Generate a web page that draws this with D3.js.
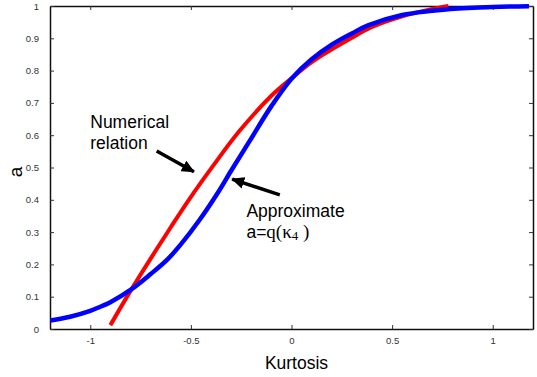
<!DOCTYPE html>
<html>
<head>
  <meta charset="utf-8">
  <script src="https://d3js.org/d3.v7.min.js"></script>
  <style>
    body { margin: 0; background: #fff; }
    .tick text { font-family: Arial, "Liberation Sans", sans-serif; font-size: 9.5px; fill: #333; }
  </style>
</head>
<body>
<div id="vis"></div>
<script>
// numerical relation (red)
var numX = [-0.90, -0.80, -0.70, -0.60, -0.51, -0.39, -0.26, -0.10, 0.0, 0.10, 0.19, 0.30, 0.40, 0.55, 0.68, 0.78];
var numA = [0.012, 0.118, 0.218, 0.315, 0.40, 0.505, 0.612, 0.722, 0.776, 0.826, 0.862, 0.902, 0.935, 0.968, 0.988, 1.0];

// approximate a = q(kappa4) (blue)
var apxX = [-1.2, -1.1, -1.0, -0.95, -0.90, -0.80, -0.70, -0.62, -0.55, -0.46, -0.37, -0.30, -0.21, -0.10, 0.0, 0.1, 0.2, 0.3, 0.38, 0.55, 0.7, 0.79, 1.0, 1.18];
var apxA = [0.026, 0.038, 0.056, 0.069, 0.083, 0.121, 0.17, 0.213, 0.262, 0.335, 0.418, 0.49, 0.58, 0.69, 0.775, 0.835, 0.88, 0.915, 0.94, 0.972, 0.985, 0.991, 0.997, 0.999];

var xTicks = [-1, -0.5, 0, 0.5, 1];
var yTicks = [0, 0.1, 0.2, 0.3, 0.4, 0.5, 0.6, 0.7, 0.8, 0.9, 1];

var W = 537, H = 377;
var pLeft = 50, pRight = 533, pTop = 6, pBottom = 329;

var svg = d3.select("#vis").append("svg")
  .attr("width", W)
  .attr("height", H);

var x = d3.scaleLinear().domain([-1.2, 1.2]).range([pLeft, pRight]);
var y = d3.scaleLinear().domain([0, 1]).range([pBottom, pTop]);

var fmt = function(d){ return String(d); };

// axes, ticks pointing inward on all four sides
svg.append("g").attr("transform", "translate(0," + pBottom + ")")
  .call(d3.axisBottom(x).tickValues(xTicks).tickFormat(fmt).tickSizeInner(-4).tickSizeOuter(0).tickPadding(8));
svg.append("g").attr("transform", "translate(0," + pTop + ")")
  .call(d3.axisTop(x).tickValues(xTicks).tickFormat("").tickSizeInner(-4).tickSizeOuter(0));
svg.append("g").attr("transform", "translate(" + pLeft + ",0)")
  .call(d3.axisLeft(y).tickValues(yTicks).tickFormat(fmt).tickSizeInner(-4).tickSizeOuter(0).tickPadding(11));
svg.append("g").attr("transform", "translate(" + pRight + ",0)")
  .call(d3.axisRight(y).tickValues(yTicks).tickFormat("").tickSizeInner(-4).tickSizeOuter(0));

svg.selectAll(".domain").attr("stroke", "#111").attr("stroke-width", 1.5);
svg.selectAll(".tick line").attr("stroke", "#333");

// clip for curves
svg.append("clipPath").attr("id", "plot")
  .append("rect").attr("x", pLeft).attr("y", pTop - 2).attr("width", pRight - pLeft).attr("height", pBottom - pTop + 2);

var line = d3.line()
  .x(function(d){ return x(d[0]); })
  .y(function(d){ return y(d[1]); })
  .curve(d3.curveCatmullRom.alpha(0.5));

var numData = numX.map(function(v, i){ return [v, numA[i]]; });
var apxData = apxX.map(function(v, i){ return [v, apxA[i]]; });

svg.append("path").datum(numData)
  .attr("clip-path", "url(#plot)")
  .attr("fill", "none").attr("stroke", "#ff0000").attr("stroke-width", 4)
  .attr("d", line);

svg.append("path").datum(apxData)
  .attr("clip-path", "url(#plot)")
  .attr("fill", "none").attr("stroke", "#0000ff").attr("stroke-width", 4.5)
  .attr("d", line);

// arrows
svg.append("defs").append("marker")
  .attr("id", "head")
  .attr("markerUnits", "userSpaceOnUse")
  .attr("markerWidth", 14).attr("markerHeight", 12)
  .attr("refX", 12).attr("refY", 6)
  .attr("orient", "auto")
  .append("path").attr("d", "M0,0 L13,6 L0,12 Z").attr("fill", "#000");

var arrows = [
  {x1: -0.67, y1: 0.551, x2: -0.485, y2: 0.487},
  {x1: -0.058, y1: 0.415, x2: -0.295, y2: 0.464}
];
svg.selectAll(".arrow").data(arrows).enter().append("line")
  .attr("class", "arrow")
  .attr("x1", function(d){ return x(d.x1); })
  .attr("y1", function(d){ return y(d.y1); })
  .attr("x2", function(d){ return x(d.x2); })
  .attr("y2", function(d){ return y(d.y2); })
  .attr("stroke", "#000").attr("stroke-width", 3.5)
  .attr("marker-end", "url(#head)");

// annotation text
var sans = "Arial, 'Liberation Sans', sans-serif";
var serif = "'Liberation Serif', 'DejaVu Serif', serif";
svg.append("text").attr("x", x(-1.0)).attr("y", y(0.622))
  .attr("font-family", sans).attr("font-size", 17.5).text("Numerical");
svg.append("text").attr("x", x(-1.0)).attr("y", y(0.557))
  .attr("font-family", sans).attr("font-size", 17.5).text("relation");
svg.append("text").attr("x", x(-0.224)).attr("y", y(0.347))
  .attr("font-family", sans).attr("font-size", 17.5).text("Approximate");

var eq = svg.append("text").attr("x", x(-0.224)).attr("y", y(0.282))
  .attr("font-family", sans).attr("font-size", 17.5);
eq.append("tspan").text("a=");
eq.append("tspan").attr("font-family", serif).attr("font-size", 19).text("q(κ");
eq.append("tspan").attr("font-family", serif).attr("font-size", 13).attr("dy", 2).text("4");
eq.append("tspan").attr("font-family", serif).attr("font-size", 19).attr("dy", -2).text(" )");

// axis titles
svg.append("text").attr("x", (pLeft + pRight) / 2 + 5).attr("y", 369)
  .attr("text-anchor", "middle").attr("font-family", sans).attr("font-size", 17.5).text("Kurtosis");
svg.append("text").attr("transform", "translate(22,172) rotate(-90)")
  .attr("text-anchor", "middle").attr("font-family", sans).attr("font-size", 19).text("a");
</script>
</body>
</html>
